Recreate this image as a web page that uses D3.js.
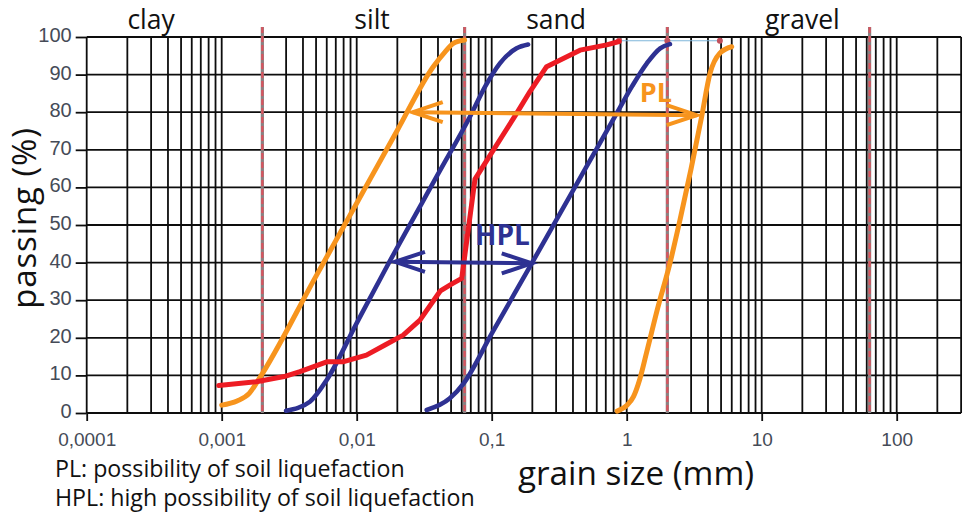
<!DOCTYPE html>
<html><head><meta charset="utf-8">
<script src="https://cdn.jsdelivr.net/npm/d3@7"></script>
<style>
html,body{margin:0;padding:0;background:#fff;}
svg{display:block;}
</style></head>
<body><svg id="c" width="969" height="515"></svg>
<script>
// ---------- data ----------
const xTickValues = [0.0001, 0.001, 0.01, 0.1, 1, 10, 100];
const yTickValues = [0, 10, 20, 30, 40, 50, 60, 70, 80, 90, 100];
const zoneBounds = [0.002, 0.063, 2, 63];
const zoneLabels = ["clay", "silt", "sand", "gravel"];
const zoneLabelX = [0.0003, 0.013, 0.3, 20];

const plLeft = [[0.001,2.1],[0.0013,3.2],[0.0016,5.2],[0.00187,8.8],[0.005,36.4],[0.01,55.8],[0.02,75.2],[0.0369,92.1],[0.045,96],[0.052,98.3],[0.063,99.2]];
const plRight = [[0.85,0.5],[1.0,2],[1.12,4.3],[1.25,9],[1.4,15.9],[1.7,28],[2.09,39.8],[2.48,51.3],[3.0,65],[3.59,78.8],[4.14,90.3],[4.9,95.7],[6.0,97.4]];
const hplLeft = [[0.003,0.6],[0.0045,3],[0.006,8.8],[0.01,23.9],[0.0167,38.9],[0.04,63.5],[0.069,78.8],[0.09,87],[0.115,93],[0.153,97],[0.186,98]];
const hplRight = [[0.033,0.8],[0.049,3.9],[0.062,7.9],[0.1,21.1],[0.198,39.8],[0.5,65.3],[0.843,79.7],[1.1,87],[1.41,93],[1.77,97],[2.09,98.1]];
const sample = [[0.00095,7.3],[0.0018,8.3],[0.0029,9.7],[0.0038,11],[0.006,13.6],[0.0079,13.6],[0.0118,15.4],[0.0162,18.1],[0.0221,20.7],[0.0294,24.7],[0.0417,32.5],[0.05,34.2],[0.06,35.8],[0.0752,62.2],[0.153,79.7],[0.192,85.5],[0.255,92.1],[0.451,96.5],[0.711,97.9],[0.877,98.8]];
const topTrace = [[0.877,99],[2,99],[4.9,99]];

const plArrow = [[0.026,80],[3.3,79.2]];
const hplArrow = [[0.0192,40.2],[0.198,39.8]];
const plLabel = {text:"PL", x:1.25, y:82.7};
const hplLabel = {text:"HPL", x:0.0753, y:44.7};
const notes = ["PL: possibility of soil liquefaction", "HPL: high possibility of soil liquefaction"];
const xTitle = "grain size (mm)";
const yTitle = "passing (%)";

// ---------- layout ----------
const W = 969, H = 515;
const x0 = 86.7, decade = 135;
const x = d3.scaleLog().domain([0.0001, 300]).range([x0, x0 + decade*Math.log10(3e6)]);
const y = d3.scaleLinear().domain([0, 100]).range([413, 37]);

const ORANGE = "#F7941D", BLUE = "#2E3192", RED = "#ED1C24";
const svg = d3.select("#c");
svg.append("rect").attr("width", W).attr("height", H).attr("fill", "#fff");

// grid: vertical lines at 1..9 x decade
const vLines = [];
for (let e = -4; e <= 2; e++) for (let m = 1; m <= 9; m++) {
  const v = m * Math.pow(10, e);
  if (v <= 300 * 1.0001) vLines.push({v, major: m === 1});
}
const grid = svg.append("g");
grid.selectAll("line.v").data(vLines).join("line")
  .attr("x1", d => x(d.v)).attr("x2", d => x(d.v))
  .attr("y1", y(100)).attr("y2", y(0))
  .attr("stroke", "#0d0d0d").attr("stroke-width", 1.8);
grid.selectAll("line.h").data(yTickValues).join("line")
  .attr("x1", x(0.0001)).attr("x2", x(300))
  .attr("y1", d => y(d)).attr("y2", d => y(d))
  .attr("stroke", "#0d0d0d").attr("stroke-width", 1.8);

// axes
const xAxis = d3.axisBottom(x).tickValues(xTickValues).tickSize(8).tickPadding(6)
  .tickFormat(d => String(d).replace(".", ","));
const gx = svg.append("g").attr("transform", `translate(0,${y(0)})`).call(xAxis);
gx.select(".domain").remove();
gx.selectAll(".tick line").attr("stroke", "#0d0d0d").attr("stroke-width", 1.8);
gx.selectAll(".tick text").attr("font-family", "Liberation Sans, Arial, sans-serif")
  .attr("font-size", 19).attr("fill", "#454b57").attr("dy", "1.0em");

const yAxis = d3.axisLeft(y).tickValues(yTickValues).tickSize(11).tickPadding(4);
const gy = svg.append("g").attr("transform", `translate(${x(0.0001)},0)`).call(yAxis);
gy.select(".domain").remove();
gy.selectAll(".tick line").attr("stroke", "#0d0d0d").attr("stroke-width", 1.8);
gy.selectAll(".tick text").attr("font-family", "Liberation Sans, Arial, sans-serif")
  .attr("font-size", 20).attr("fill", "#454b57").attr("dy", "0.22em");

// zone boundaries (dashed)
const gb = svg.append("g");
gb.selectAll("line.base").data(zoneBounds).join("line")
  .attr("x1", d => x(d)).attr("x2", d => x(d))
  .attr("y1", y(100) - 10).attr("y2", y(0))
  .attr("stroke", "#8c7f80").attr("stroke-width", 3.2);
gb.selectAll("line.dash").data(zoneBounds).join("line")
  .attr("x1", d => x(d)).attr("x2", d => x(d))
  .attr("y1", y(100) - 10).attr("y2", y(0))
  .attr("stroke", "#d9535e").attr("stroke-width", 2.2).attr("stroke-dasharray", "6,3");

// zone labels
svg.append("g").selectAll("text").data(zoneLabels).join("text")
  .attr("x", (d, i) => x(zoneLabelX[i])).attr("y", 29)
  .attr("text-anchor", "middle")
  .attr("font-family", "Open Sans, sans-serif").attr("font-size", 26.5).attr("fill", "#111")
  .text(d => d);

// top trace
svg.append("path").datum(topTrace)
  .attr("d", d3.line().x(d => x(d[0])).y(d => y(d[1])))
  .attr("fill", "none").attr("stroke", "#7fb6da").attr("stroke-width", 1.2);
svg.append("g").selectAll("circle").data(topTrace).join("circle")
  .attr("cx", d => x(d[0])).attr("cy", d => y(d[1])).attr("r", 3).attr("fill", "#c2505c");

// curves
const smooth = d3.line().x(d => x(d[0])).y(d => y(d[1])).curve(d3.curveMonotoneX);
const straight = d3.line().x(d => x(d[0])).y(d => y(d[1]));
const curves = [
  {data: plLeft, color: ORANGE, w: 5, gen: smooth},
  {data: plRight, color: ORANGE, w: 5, gen: smooth},
  {data: hplLeft, color: BLUE, w: 4.6, gen: smooth},
  {data: hplRight, color: BLUE, w: 4.6, gen: smooth},
  {data: sample, color: RED, w: 5, gen: straight}
];
svg.append("g").selectAll("path").data(curves).join("path")
  .attr("d", c => c.gen(c.data))
  .attr("fill", "none").attr("stroke", c => c.color).attr("stroke-width", c => c.w)
  .attr("stroke-linejoin", "round").attr("stroke-linecap", "round");

// arrows
function drawArrow(pts, color) {
  const g = svg.append("g");
  const p = pts.map(d => [x(d[0]), y(d[1])]);
  g.append("path").attr("d", d3.line()(p)).attr("stroke", color).attr("stroke-width", 4).attr("fill", "none");
  const heads = [[p[0], 1], [p[1], -1]];
  heads.forEach(([t, s]) => {
    g.append("path")
      .attr("d", d3.line()([[t[0] + s*30, t[1] - 10], t, [t[0] + s*30, t[1] + 10]]))
      .attr("stroke", color).attr("stroke-width", 4).attr("fill", "none")
      .attr("stroke-linejoin", "miter");
  });
}
drawArrow(plArrow, ORANGE);
drawArrow(hplArrow, BLUE);

svg.append("text").attr("x", x(plLabel.x)).attr("y", y(plLabel.y))
  .attr("font-family", "Open Sans, sans-serif").attr("font-weight", 700).attr("font-size", 27)
  .attr("fill", ORANGE).text(plLabel.text);
svg.append("text").attr("x", x(hplLabel.x)).attr("y", y(hplLabel.y))
  .attr("font-family", "Open Sans, sans-serif").attr("font-weight", 700).attr("font-size", 28)
  .attr("fill", BLUE).text(hplLabel.text);

// titles
svg.append("text").attr("x", 636).attr("y", 485).attr("text-anchor", "middle")
  .attr("font-family", "Open Sans, sans-serif").attr("font-size", 33.3).attr("fill", "#111")
  .text(xTitle);
svg.append("text").attr("transform", "translate(35.5,218) rotate(-90)").attr("text-anchor", "middle")
  .attr("font-family", "Open Sans, sans-serif").attr("font-size", 33).attr("letter-spacing", 0.9)
  .attr("fill", "#111")
  .text(yTitle);

svg.append("g").selectAll("text").data(notes).join("text")
  .attr("x", 55).attr("y", (d, i) => 477 + i * 29)
  .attr("font-family", "Open Sans, sans-serif").attr("font-size", 23.2).attr("fill", "#111")
  .text(d => d);
</script>
</body></html>
